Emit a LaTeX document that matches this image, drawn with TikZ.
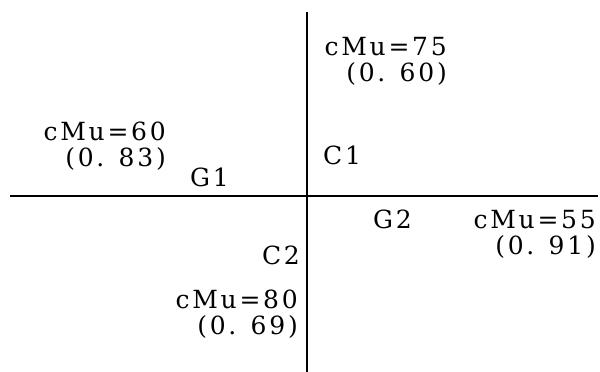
\documentclass[tikz,border=0pt]{standalone}
\usepackage{fontspec}
\newfontfamily\lblfont[LetterSpace=11]{DejaVu Serif}
\begin{document}
\begin{tikzpicture}[x=1pt, y=-1pt,
  lbl/.style={inner sep=0pt, font=\lblfont\fontsize{25}{26}\selectfont, align=right},
  axis/.style={line width=1.8pt}]
\useasboundingbox (0,0) rectangle (600,372);
\coordinate (vtop) at (307,12); \coordinate (vbot) at (307,372);
\coordinate (hleft) at (10,196); \coordinate (hright) at (598,196);
\draw[axis] (vtop) -- (vbot);
\draw[axis] (hleft) -- (hright);
\node[lbl, anchor=north east] (mu75) at (447,37) {cMu=75\\(0. 60)};
\node[lbl, anchor=north west] (c1) at (323,146) {C1};
\node[lbl, anchor=north east] (mu60) at (166,122) {cMu=60\\(0. 83)};
\node[lbl, anchor=north west] (g1) at (190,168) {G1};
\node[lbl, anchor=north west] (g2) at (373,210) {G2};
\node[lbl, anchor=north east] (mu55) at (596,210) {cMu=55\\(0. 91)};
\node[lbl, anchor=north east] (c2) at (300,246) {C2};
\node[lbl, anchor=north east] (mu80) at (298,290) {cMu=80\\(0. 69)};
\end{tikzpicture}
\end{document}
